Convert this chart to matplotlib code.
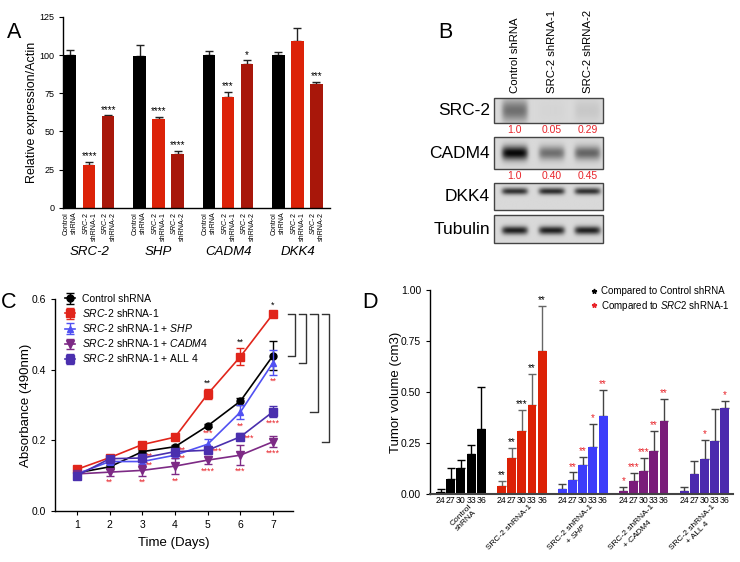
import numpy as np
import matplotlib
matplotlib.use("Agg")
import matplotlib.pyplot as plt
import matplotlib.transforms as mtransforms
from matplotlib.lines import Line2D
from matplotlib.patches import Rectangle

plt.rcParams['font.family'] = ['Liberation Sans', 'DejaVu Sans']
plt.rcParams['mathtext.fontset'] = 'custom'
plt.rcParams['mathtext.rm'] = 'Liberation Sans'
plt.rcParams['mathtext.it'] = 'Liberation Sans:italic'
plt.rcParams['axes.linewidth'] = 1.0

W, H = 740, 562
SRC = r"$\mathit{SRC}$-$\mathit{2}$"

# ---- panel A : qPCR
genes = ["SRC-2", "SHP", "CADM4", "DKK4"]
a_conditions = ["Control\nshRNA", SRC + "\nshRNA-1", SRC + "\nshRNA-2"]
a_ctrl = [100, 99.5, 100, 100]
a_sh1 = [28, 58, 72.4, 109.2]
a_sh2 = [60, 35.3, 93.9, 81.4]
a_ctrl_err = [3.2, 7.0, 2.6, 1.8]
a_sh1_err = [1.9, 1.5, 3.5, 8.8]
a_sh2_err = [0.5, 1.8, 2.6, 1.3]
a_sh1_stars = ["****", "****", "***", ""]
a_sh2_stars = ["****", "****", "*", "***"]

# ---- panel B : western blot
lane_names = ["Control shRNA", "SRC-2 shRNA-1", "SRC-2 shRNA-2"]
blot_labels = ["SRC-2", "CADM4", "DKK4", "Tubulin"]
blot_src2 = [0.5, 0.02, 0.08]
blot_cadm4 = [1.0, 0.5, 0.55]
blot_dkk4 = [0.8, 0.82, 0.8]
blot_tubulin = [0.88, 0.88, 0.88]
quant_src2 = ["1.0", "0.05", "0.29"]
quant_cadm4 = ["1.0", "0.40", "0.45"]

# ---- panel C : MTS growth
days = [1, 2, 3, 4, 5, 6, 7]
c_names = ["Control shRNA", SRC + " shRNA-1", SRC + r" shRNA-1 + $\mathit{SHP}$",
           SRC + r" shRNA-1 + $\mathit{CADM4}$", SRC + " shRNA-1 + ALL 4"]
c_ctrl = [0.108, 0.125, 0.168, 0.182, 0.241, 0.311, 0.440]
c_sh1 = [0.118, 0.151, 0.188, 0.209, 0.331, 0.437, 0.558]
c_shp = [0.105, 0.140, 0.140, 0.158, 0.189, 0.280, 0.420]
c_cadm4 = [0.105, 0.110, 0.115, 0.127, 0.144, 0.158, 0.196]
c_all4 = [0.100, 0.148, 0.150, 0.168, 0.172, 0.210, 0.281]
c_ctrl_err = [0.004, 0.005, 0.004, 0.004, 0.004, 0.010, 0.040]
c_sh1_err = [0.004, 0.004, 0.006, 0.005, 0.014, 0.024, 0.008]
c_shp_err = [0.004, 0.006, 0.008, 0.008, 0.015, 0.020, 0.035]
c_cadm4_err = [0.006, 0.010, 0.015, 0.023, 0.012, 0.028, 0.015]
c_all4_err = [0.005, 0.006, 0.010, 0.008, 0.008, 0.010, 0.015]
# (series index, day, stars, colour, where)
c_stars = [(1, 5, "**", "k", "above"), (1, 6, "**", "k", "above"), (1, 7, "*", "k", "above"),
           (3, 2, "**", "r", "below"), (3, 3, "**", "r", "below"), (3, 4, "**", "r", "below"),
           (3, 5, "****", "r", "below"), (3, 6, "***", "r", "below"), (3, 7, "****", "r", "below"),
           (4, 3, "**", "r", "rup"), (2, 3, "**", "r", "rdown"),
           (4, 4, "**", "r", "rup"), (2, 4, "**", "r", "rdown"),
           (2, 5, "***", "r", "above"), (4, 5, "***", "r", "right"),
           (2, 6, "**", "r", "below"), (4, 6, "***", "r", "right"),
           (2, 7, "**", "r", "below"), (4, 7, "****", "r", "below")]
c_bracket_to = [0, 2, 4, 3]

# ---- panel D : tumour volume
d_days = ["24", "27", "30", "33", "36"]
d_groups = ["Control\nshRNA", "SRC-2 shRNA-1", "SRC-2 shRNA-1\n" + r"+ $\mathit{SHP}$",
            "SRC-2 shRNA-1\n" + r"+ $\mathit{CADM4}$", "SRC-2 shRNA-1\n+ ALL 4"]
d_vals = [[0.010, 0.073, 0.127, 0.197, 0.320],
          [0.039, 0.176, 0.310, 0.436, 0.700],
          [0.025, 0.070, 0.143, 0.233, 0.383],
          [0.018, 0.065, 0.114, 0.212, 0.359],
          [0.018, 0.100, 0.171, 0.261, 0.424]]
d_errs = [[0.014, 0.057, 0.041, 0.043, 0.207],
          [0.025, 0.052, 0.104, 0.153, 0.223],
          [0.023, 0.037, 0.041, 0.110, 0.127],
          [0.016, 0.038, 0.062, 0.099, 0.109],
          [0.016, 0.064, 0.093, 0.156, 0.033]]
d_stars = [["", "", "", "", ""],
           ["**", "**", "***", "**", "**"],
           ["", "**", "**", "*", "**"],
           ["*", "***", "***", "**", "**"],
           ["", "", "*", "", "*"]]


def rect(l, t, r, b):
    return [l / W, 1 - b / H, (r - l) / W, (b - t) / H]


fig = plt.figure(figsize=(W / 100, H / 100), dpi=100)

# overlay for letters and the blot
ov = fig.add_axes([0, 0, 1, 1])
ov.axis('off')

# ================= A
axA = fig.add_axes(rect(63.3, 17, 330, 207.7))
gx = np.arange(len(genes)) * 3.65
a_cols = ["black", "#dc2208", "#a8170a"]
for i, (vals, errs, stars, col) in enumerate(zip([a_ctrl, a_sh1, a_sh2],
                                                 [a_ctrl_err, a_sh1_err, a_sh2_err],
                                                 [None, a_sh1_stars, a_sh2_stars], a_cols)):
    x = gx + i
    axA.bar(x, vals, width=0.66, color=col, zorder=2)
    axA.errorbar(x, vals, yerr=[np.zeros(len(vals)), errs], fmt='none', ecolor='#222',
                 elinewidth=1, capsize=3, capthick=1, zorder=1)
    if stars:
        for xx, v, e, s in zip(x, vals, errs, stars):
            axA.text(xx, v + e + 0.5, s, ha='center', va='bottom', fontsize=7)
axA.set_xlim(-0.36, 13.66)
axA.set_ylim(0, 125)
axA.set_yticks([0, 25, 50, 75, 100, 125])
axA.tick_params(axis='y', labelsize=6.5, length=3)
xt = np.concatenate([gx + i for i in range(3)])
xl = [a_conditions[i] for i in range(3) for _ in genes]
axA.set_xticks(xt, xl, rotation=90, fontsize=5)
for t in axA.get_xticklabels():
    t.set_multialignment('right')
axA.tick_params(axis='x', length=0, pad=3)
for s in ['top', 'right']:
    axA.spines[s].set_visible(False)
axA.set_ylabel("Relative expression/Actin", fontsize=9)
axA.yaxis.set_label_coords(-0.095, 0.5)
tA = mtransforms.blended_transform_factory(axA.transData, axA.transAxes)
for g, x in zip(genes, gx + 1):
    axA.text(x, -0.232, g, transform=tA, ha='center', va='center', fontsize=9.5, style='italic')

# ================= B
lane_pos = [0.19, 0.53, 0.86]


def blot_image(strengths, y0, sig, h=50, w=200):
    yy = np.linspace(0, 1, h)[:, None]
    xx = np.linspace(0, 1, w)[None, :]
    img = np.full((h, w), 0.85)
    for c, s in zip(lane_pos, strengths):
        px = np.exp(-((xx - c) / 0.12) ** 6)
        py = np.exp(-((yy - y0) / sig) ** 2)
        img = img - s * 0.82 * px * py
    return np.clip(img, 0, 1)


bl, br = 494, 603
rows = [(blot_src2, 98, 123, 0.5, 0.45), (blot_cadm4, 137, 169, 0.5, 0.22),
        (blot_dkk4, 183, 210, 0.3, 0.13), (blot_tubulin, 215, 243, 0.55, 0.15)]
for lab, (st, t, b, y0, sg) in zip(blot_labels, rows):
    ov.imshow(blot_image(st, y0, sg), cmap='gray', vmin=0, vmax=1, extent=(bl, br, b, t),
              aspect='auto', interpolation='bilinear')
    ov.add_patch(Rectangle((bl, t), br - bl, b - t, fill=False, ec='#444', lw=1))
    ov.text(bl - 4, (t + b) / 2, lab, ha='right', va='center', fontsize=12.5)
lane_x = [bl + p * (br - bl) for p in lane_pos]
for x, q1, q2, name in zip(lane_x, quant_src2, quant_cadm4, lane_names):
    ov.text(x, 130, q1, ha='center', va='center', fontsize=7.5, color='#e8242a')
    ov.text(x, 176, q2, ha='center', va='center', fontsize=7.5, color='#e8242a')
    ov.text(x, 93, name, rotation=90, ha='center', va='bottom', fontsize=8.2)

# ================= C
axC = fig.add_axes(rect(55, 299, 293, 511))
c_vals = [c_ctrl, c_sh1, c_shp, c_cadm4, c_all4]
c_errs = [c_ctrl_err, c_sh1_err, c_shp_err, c_cadm4_err, c_all4_err]
c_cols = ["black", "#e1251b", "#5151f2", "#7d2a85", "#4a2fae"]
c_mk = ["o", "s", "^", "v", "s"]
c_ms = [5, 5.5, 5, 6, 5.5]
order = [3, 4, 2, 0, 1]
for k in order:
    axC.errorbar(days, c_vals[k], yerr=c_errs[k], color=c_cols[k], marker=c_mk[k], ms=c_ms[k],
                 lw=1.2, capsize=3, elinewidth=1, label=c_names[k], zorder=3 + k)
star_col = {"k": "black", "r": "#e8242a"}
for k, d, s, c, where in c_stars:
    v = c_vals[k][d - 1]
    e = c_errs[k][d - 1]
    if where == "above":
        axC.text(d, v + e + 0.003, s, ha='center', va='bottom', fontsize=6.5, color=star_col[c])
    elif where == "below":
        axC.text(d, v - e - 0.006, s, ha='center', va='top', fontsize=6.5, color=star_col[c])
    else:
        dy = {"right": -0.004, "rup": 0.004, "rdown": -0.01}[where]
        axC.text(d + 0.12, v + dy, s, ha='left', va='center', fontsize=6.5, color=star_col[c])
top = c_sh1[-1]
for j, k in enumerate(c_bracket_to):
    xr = 7.67 + j * 0.345
    bot = c_vals[k][-1]
    axC.plot([xr - 0.22, xr, xr, xr - 0.22], [top, top, bot, bot], color='#333', lw=1,
             clip_on=False)
axC.set_xlim(0.327, 7.61)
axC.set_ylim(0, 0.6)
axC.set_xticks(days)
axC.set_yticks([0.0, 0.2, 0.4, 0.6])
axC.tick_params(labelsize=7.5, length=3)
for s in ['top', 'right']:
    axC.spines[s].set_visible(False)
axC.set_xlabel("Time (Days)", fontsize=9.5)
axC.xaxis.set_label_coords(0.5, -0.123)
axC.set_ylabel("Absorbance (490nm)", fontsize=9.5)
axC.yaxis.set_label_coords(-0.097, 0.5)
h, l = axC.get_legend_handles_labels()
idx = [order.index(i) for i in range(5)]
axC.legend([h[i] for i in idx], [l[i] for i in idx], loc='upper left',
           bbox_to_anchor=((65 - 55) / 238, (511 - 294) / 212), frameon=False, fontsize=7.5,
           handlelength=1.0, handletextpad=0.6, labelspacing=0.3, borderpad=0, borderaxespad=0)

# ================= D
axD = fig.add_axes(rect(430, 290, 733, 494.3))
d_cols = ["black", "#dc2106", "#3d3dfa", "#7a1c7a", "#4b2aae"]
d_ecols = ["black", "#666", "#444", "#444", "#444"]
n = len(d_days)
for g in range(len(d_groups)):
    x = g * 6 + np.arange(n)
    axD.bar(x, d_vals[g], width=0.88, color=d_cols[g], zorder=2)
    axD.errorbar(x, d_vals[g], yerr=[np.zeros(n), d_errs[g]], fmt='none', ecolor=d_ecols[g],
                 elinewidth=1, capsize=2.8, capthick=1, zorder=1)
    sc = "black" if g <= 1 else "#e8242a"
    for xx, v, e, s in zip(x, d_vals[g], d_errs[g], d_stars[g]):
        if s:
            axD.text(xx, v + e + 0.004, s, ha='center', va='bottom', fontsize=7, color=sc)
xt = [g * 6 + i for g in range(len(d_groups)) for i in range(n)]
axD.set_xticks(xt, d_days * len(d_groups), fontsize=6.3)
axD.tick_params(axis='x', length=0, pad=1.5)
axD.set_xlim(-1.05, 28.8)
axD.set_ylim(0, 1.0)
axD.set_yticks([0, 0.25, 0.5, 0.75, 1.0], ["0.00", "0.25", "0.50", "0.75", "1.00"])
axD.tick_params(axis='y', labelsize=7.5, length=3)
for s in ['top', 'right']:
    axD.spines[s].set_visible(False)
axD.spines['bottom'].set_color('#444')
axD.spines['bottom'].set_linewidth(1.5)
axD.set_ylabel("Tumor volume (cm3)", fontsize=9.5)
axD.yaxis.set_label_coords(-0.092, 0.5)
tD = mtransforms.blended_transform_factory(axD.transData, axD.transAxes)
for g, lab in enumerate(d_groups):
    axD.text(g * 6 + 2.7, -0.045, lab, transform=tD, rotation=45, rotation_mode='anchor',
             ha='right', va='top', ma='center', fontsize=6, linespacing=1.05)
leg_h = [Line2D([], [], ls='none', marker='*', ms=3.5, color='black'),
         Line2D([], [], ls='none', marker='*', ms=3.5, color='#e8242a')]
axD.legend(leg_h, ["Compared to Control shRNA", r"Compared to $\mathit{SRC2}$ shRNA-1"],
           loc='upper left', bbox_to_anchor=((590 - 430) / 303, 1.02), frameon=False,
           fontsize=7, handlelength=0.8, handletextpad=0.3, labelspacing=0.3,
           borderpad=0, borderaxespad=0)

# panel letters
for letter, x, y in [("A", 14.5, 33), ("B", 445, 33), ("C", 9, 303), ("D", 370, 303)]:
    ov.text(x, y, letter, ha='center', va='center', fontsize=15.5)
ov.set_xlim(0, W)
ov.set_ylim(H, 0)

fig.savefig("out.png", dpi=100)
